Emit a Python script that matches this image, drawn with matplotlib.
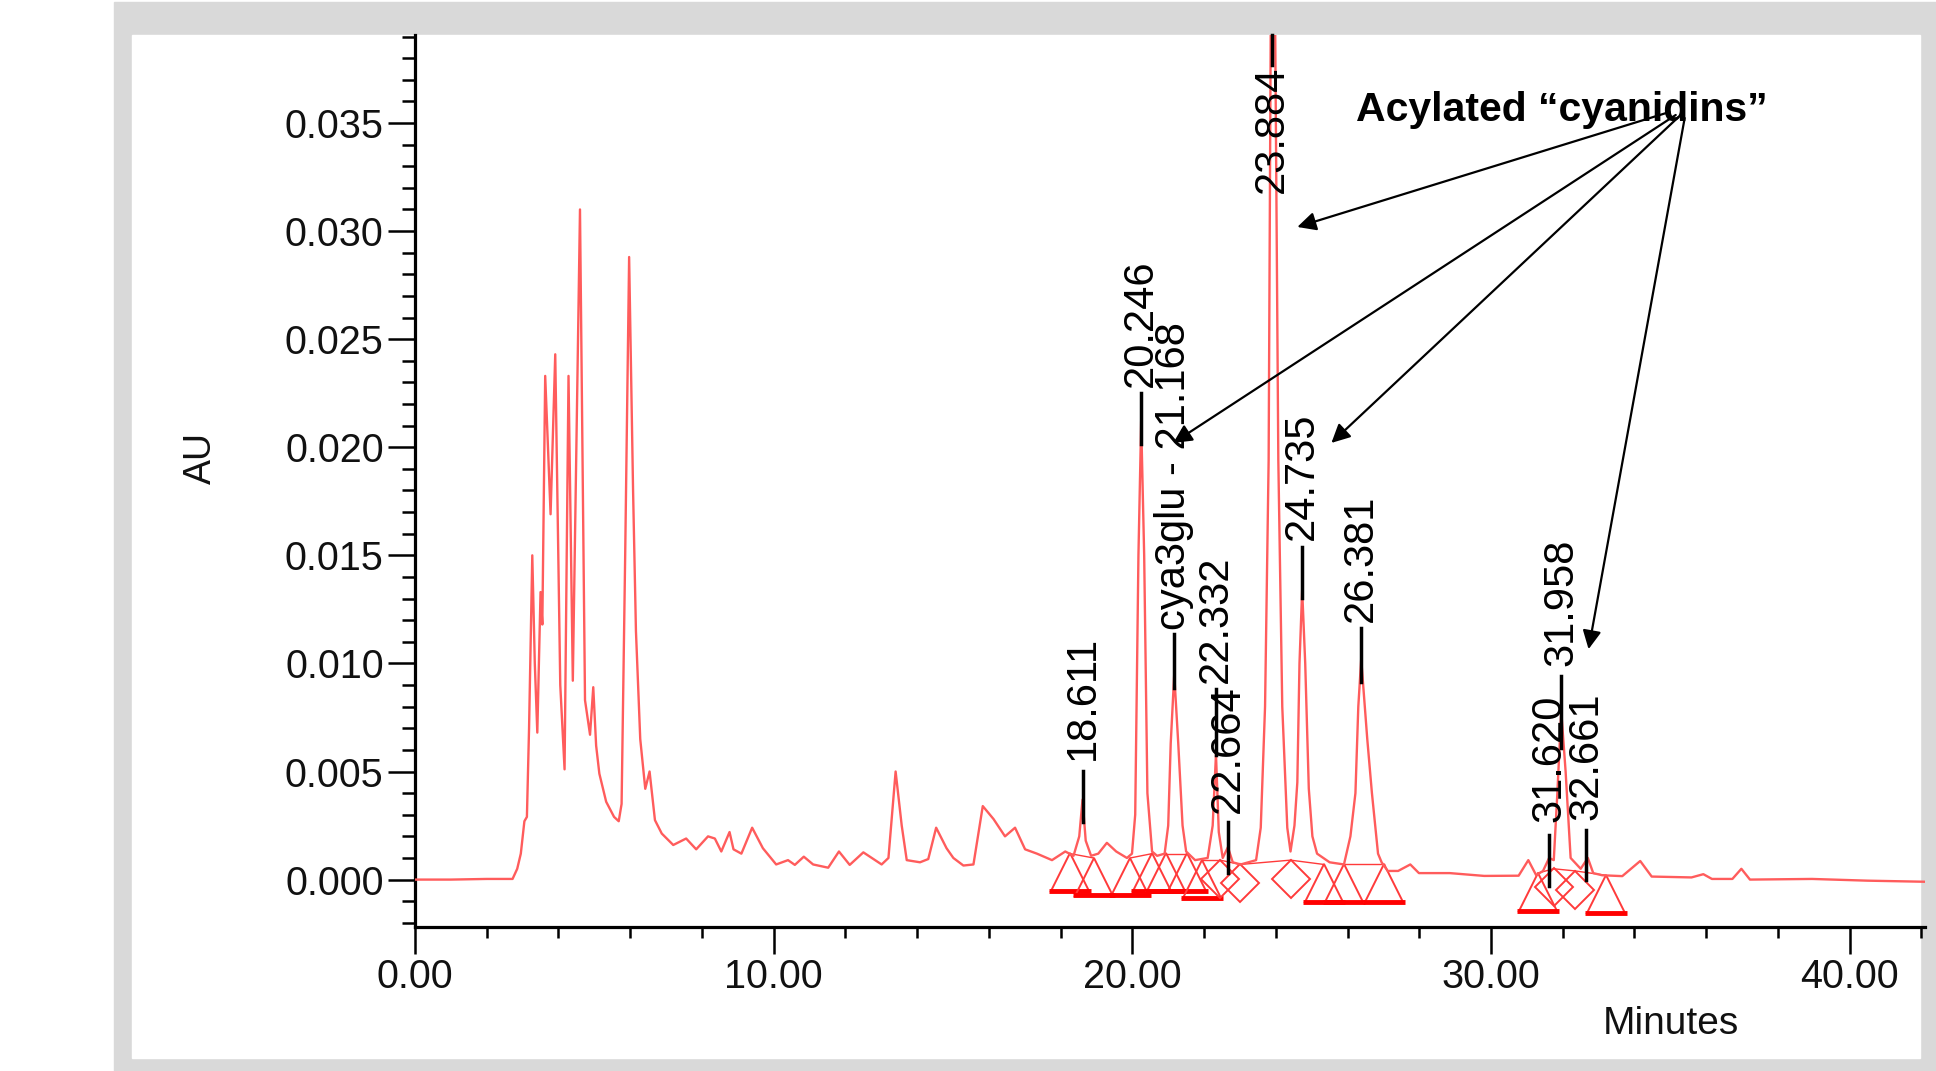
import matplotlib
matplotlib.use('Agg')
import matplotlib.pyplot as plt
import matplotlib.transforms as mtransforms
from matplotlib.patches import Rectangle
from matplotlib.ticker import MultipleLocator, FormatStrFormatter

plt.rcParams['font.family'] = ['Liberation Sans', 'DejaVu Sans']

# chromatogram (minutes / AU)
minutes = [0.00, 1.00, 2.00, 2.72, 2.85, 2.95, 3.05, 3.12, 3.18, 3.27, 3.34, 3.41,
           3.50, 3.55, 3.63, 3.78, 3.91, 4.05, 4.17, 4.28, 4.40, 4.60, 4.74, 4.88,
           4.97, 5.05, 5.14, 5.33, 5.55, 5.68, 5.76, 5.86, 5.97, 6.08, 6.16, 6.28,
           6.42, 6.54, 6.69, 6.88, 7.20, 7.56, 7.84, 8.17, 8.36, 8.54, 8.77, 8.88,
           9.10, 9.40, 9.70, 10.07, 10.40, 10.59, 10.84, 11.10, 11.52, 11.82, 12.12,
           12.50, 13.01, 13.20, 13.40, 13.57, 13.71, 14.08, 14.31, 14.53, 14.82,
           15.01, 15.29, 15.57, 15.83, 16.13, 16.45, 16.73, 17.01, 17.34, 17.76,
           18.13, 18.36, 18.52, 18.611, 18.70, 18.85, 19.05, 19.29, 19.55, 19.85,
           19.99, 20.08, 20.17, 20.246, 20.33, 20.42, 20.55, 20.69, 20.90, 21.00,
           21.07, 21.168, 21.28, 21.40, 21.50, 21.75, 22.10, 22.24, 22.332, 22.41,
           22.52, 22.664, 22.80, 23.02, 23.45, 23.58, 23.70, 23.80, 23.86, 23.91,
           23.98, 24.07, 24.18, 24.32, 24.41, 24.52, 24.60, 24.66, 24.735, 24.82,
           24.92, 25.02, 25.15, 25.50, 25.90, 26.08, 26.22, 26.30, 26.381, 26.46,
           26.55, 26.68, 26.85, 26.95, 27.12, 27.41, 27.75, 27.99, 28.85, 29.81,
           30.77, 31.04, 31.26, 31.45, 31.62, 31.75, 31.85, 31.958, 32.08, 32.22,
           32.50, 32.70, 32.85, 33.10, 33.66, 34.16, 34.48, 35.59, 35.92, 36.16,
           36.73, 36.98, 37.22, 38.95, 40.50, 42.10]
au = [0.00000, 0.00000, 0.00003, 0.00003, 0.00050, 0.00120, 0.00270, 0.00290, 0.00700, 0.01500, 0.01000, 0.00680,
      0.01330, 0.01180, 0.02330, 0.01690, 0.02430, 0.00900, 0.00510, 0.02330, 0.00920, 0.03100, 0.00830, 0.00670,
      0.00890, 0.00620, 0.00490, 0.00360, 0.00290, 0.00270, 0.00350, 0.01500, 0.02880, 0.01800, 0.01150, 0.00650,
      0.00420, 0.00500, 0.00275, 0.00213, 0.00160, 0.00190, 0.00140, 0.00200, 0.00190, 0.00130, 0.00220, 0.00140,
      0.00120, 0.00240, 0.00145, 0.00070, 0.00090, 0.00068, 0.00106, 0.00070, 0.00055, 0.00130, 0.00068,
      0.00126, 0.00070, 0.00100, 0.00500, 0.00250, 0.00090, 0.00080, 0.00095, 0.00240, 0.00145,
      0.00100, 0.00065, 0.00070, 0.00340, 0.00280, 0.00200, 0.00240, 0.00140, 0.00120, 0.00090,
      0.00130, 0.00110, 0.00200, 0.00370, 0.00180, 0.00110, 0.00120, 0.00170, 0.00130, 0.00100,
      0.00120, 0.00300, 0.01500, 0.02120, 0.01500, 0.00400, 0.00130, 0.00110, 0.00120, 0.00250,
      0.00630, 0.00950, 0.00630, 0.00250, 0.00130, 0.00090, 0.00100, 0.00250, 0.00580, 0.00220,
      0.00100, 0.00150, 0.00080, 0.00070, 0.00090, 0.00240, 0.00800, 0.01940, 0.04000, 0.04600,
      0.04000, 0.01940, 0.00800, 0.00240, 0.00130, 0.00250, 0.00450, 0.01000, 0.01340, 0.01000,
      0.00420, 0.00200, 0.00120, 0.00080, 0.00070, 0.00200, 0.00400, 0.00800, 0.01020, 0.00850,
      0.00650, 0.00400, 0.00120, 0.00080, 0.00040, 0.00040, 0.00070, 0.00030, 0.00030, 0.00017,
      0.00018, 0.00090, 0.00020, 0.00040, 0.00100, 0.00090, 0.00400, 0.00780, 0.00500, 0.00100,
      0.00050, 0.00100, 0.00030, 0.00020, 0.00016, 0.00086, 0.00014, 0.00010, 0.00025, 0.00003,
      0.00003, 0.00050, 0.00000, 0.00003, -0.00005, -0.00010]

# integrated peaks: retention time, label, start / end of the integration
peak_rt = [18.611, 20.246, 21.168, 22.332, 22.664, 23.884, 24.735, 26.381, 31.620, 31.958, 32.661]
peak_label = ['18.611', '20.246', 'cya3glu - 21.168', '22.332', '22.664', '23.884',
              '24.735', '26.381', '31.620', '31.958', '32.661']
peak_start = [18.27, 19.94, 20.95, 21.95, 22.45, 23.01, 24.41, 25.89, 31.30, 31.75, 32.35]
peak_end = [18.92, 20.55, 21.53, 22.45, 23.01, 24.41, 25.34, 27.01, 31.75, 32.35, 33.20]
start_au = [0.0012, 0.0010, 0.0012, 0.0009, 0.0009, 0.0007, 0.0009, 0.0007, 0.0003, 0.0005, 0.0004]
end_au = [0.0010, 0.0012, 0.0012, 0.0009, 0.0007, 0.0009, 0.0007, 0.0007, 0.0005, 0.0004, 0.0002]

# label placement (AU): bottom of the text, and the leader line
label_base = [0.00553, 0.02279, 0.01156, 0.00909, 0.00308, 0.03176, 0.01571, 0.01191, 0.00266, 0.00988, 0.00275]
line_top = [0.00502, 0.02251, 0.01138, 0.00881, 0.00266, 0.03907, 0.01538, 0.01164, 0.00206, 0.00942, 0.00229]
line_bot = [0.00266, 0.02015, 0.00888, 0.00576, 0.00030, 0.03768, 0.01302, 0.00914, -0.00030, 0.00608, 0.00000]

# arrows from the "Acylated cyanidins" note
arrow_from = [(34.98, 0.03551), (35.15, 0.03537), (35.23, 0.03528), (35.40, 0.03523)]
arrow_to = [(24.60, 0.03019), (21.14, 0.02020), (25.55, 0.02020), (32.72, 0.01066)]

W, H = 1936, 1071
fig = plt.figure(figsize=(W / 100, H / 100), dpi=100)
fig.patches.append(Rectangle((114 / W, 0), (W - 114) / W, (H - 2) / H,
                             transform=fig.transFigure, color='#d9d9d9', zorder=-2))
fig.patches.append(Rectangle((132 / W, (H - 1058) / H), (1920 - 132) / W, (1058 - 35) / H,
                             transform=fig.transFigure, color='white', zorder=-1))

ax = fig.add_axes([415 / W, (H - 926.5) / H, (1925 - 415) / W, (926.5 - 35) / H])
ax.patch.set_alpha(0)
ax.set_xlim(0, 42.1)
ax.set_ylim(-0.00217, 0.03907)

ax.plot(minutes, au, color='#ff5c5c', lw=1.7, zorder=3)

# integration baselines and start / end marks
red = '#ff3a3a'
for s, e, sv, ev in zip(peak_start, peak_end, start_au, end_au):
    ax.plot([s, e], [sv, ev], color=red, lw=1.0, zorder=2)

ms = 27
tri_shift = ax.transData + mtransforms.ScaledTranslation(0, -ms / 2 / 72, fig.dpi_scale_trans)
bar_shift = ax.transData + mtransforms.ScaledTranslation(0, -ms / 72, fig.dpi_scale_trans)
dms = 19
dia_shift = ax.transData + mtransforms.ScaledTranslation(0, -0.707 * dms / 72, fig.dpi_scale_trans)

marks = {}
for s, e, sv, ev in zip(peak_start, peak_end, start_au, end_au):
    marks[s] = marks.get(s, []) + [sv]
    marks[e] = marks.get(e, []) + [ev]
for t, vals in marks.items():
    v = vals[0]
    if len(vals) > 1:
        ax.plot([t], [v], marker='D', ms=dms, mfc='none', mec=red, mew=1.4,
                transform=dia_shift, zorder=2, clip_on=False)
    else:
        ax.plot([t], [v], marker='^', ms=ms, mfc='none', mec=red, mew=1.4,
                transform=tri_shift, zorder=2, clip_on=False)
        ax.plot([t], [v], marker='_', ms=ms + 3, mec='#ff0000', mew=3.5,
                transform=bar_shift, zorder=2, clip_on=False)

# peak labels with leader lines
for rt, lab, tb, lt, lb in zip(peak_rt, peak_label, label_base, line_top, line_bot):
    ax.plot([rt, rt], [lb, lt], color='black', lw=2.5, zorder=4, clip_on=False)
    ax.text(rt, tb, lab, rotation=90, ha='center', va='bottom', fontsize=30,
            color='black', zorder=5)

ax.text(31.97, 0.03560, 'Acylated \u201ccyanidins\u201d', ha='center', va='center',
        fontsize=29.5, fontweight='bold', zorder=6)
for (x0, y0), (x1, y1) in zip(arrow_from, arrow_to):
    ax.annotate('', xy=(x1, y1), xytext=(x0, y0),
                arrowprops=dict(arrowstyle='-|>', color='black', lw=1.6,
                                mutation_scale=28, shrinkA=0, shrinkB=0), zorder=6)

# axes styling
for side in ['top', 'right']:
    ax.spines[side].set_visible(False)
for side in ['left', 'bottom']:
    ax.spines[side].set_linewidth(2.3)
ax.xaxis.set_major_locator(MultipleLocator(10))
ax.xaxis.set_minor_locator(MultipleLocator(2))
ax.xaxis.set_major_formatter(FormatStrFormatter('%.2f'))
ax.yaxis.set_major_locator(MultipleLocator(0.005))
ax.yaxis.set_minor_locator(MultipleLocator(0.001))
ax.yaxis.set_major_formatter(FormatStrFormatter('%.3f'))
ax.tick_params(which='major', direction='out', length=19.5, width=1.8,
               labelsize=28.5, labelcolor='#111111', pad=3)
ax.tick_params(axis='y', which='minor', direction='out', length=9.5, width=1.8)
ax.tick_params(axis='x', which='minor', direction='out', length=8, width=1.8)

fig.text(201 / W, 1 - 458 / H, 'AU', rotation=90, ha='center', va='center',
         fontsize=27, color='#111111')
fig.text(1671 / W, 1 - 1024 / H, 'Minutes', ha='center', va='center',
         fontsize=28, color='#111111')

fig.savefig('out.png', dpi=100)
